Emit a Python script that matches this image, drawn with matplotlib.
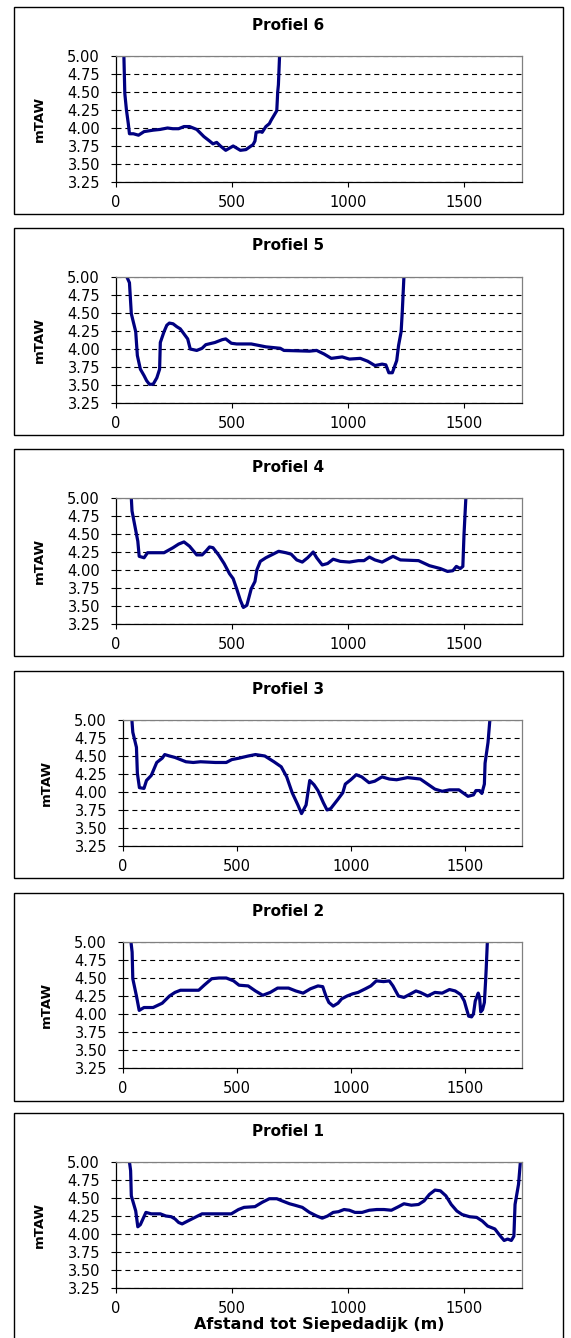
import matplotlib
matplotlib.use("Agg")
from matplotlib import pyplot as plt
from matplotlib.patches import Rectangle

# Profile data: distance to Siepedadijk (m) and height (mTAW)
P6_X = [34, 38, 45, 53, 58, 75, 97, 121, 160, 190, 222, 245, 270, 293, 317, 348, 379, 403, 418,
        434, 450, 473, 505, 536, 560, 591, 599, 604, 622, 630, 646, 661, 669, 693, 697, 700, 705]
P6_Y = [5.00, 4.48, 4.25, 4.06, 3.92, 3.92, 3.90, 3.95, 3.97, 3.98, 4.00, 3.99, 3.99, 4.02, 4.02,
        3.98, 3.88, 3.82, 3.78, 3.80, 3.75, 3.69, 3.75, 3.69, 3.70, 3.77, 3.82, 3.94, 3.95, 3.94,
        4.02, 4.06, 4.11, 4.24, 4.50, 4.60, 5.00]

P5_X = [47, 58, 66, 85, 92, 105, 121, 132, 144, 160, 176, 188, 191, 207, 219, 230, 246, 262, 277,
        293, 309, 320, 348, 371, 387, 426, 458, 473, 497, 520, 583, 646, 708, 724, 834, 865, 897,
        928, 975, 1006, 1053, 1085, 1116, 1147, 1163, 1176, 1191, 1210, 1218, 1229, 1234, 1241]
P5_Y = [5.00, 4.92, 4.49, 4.24, 3.91, 3.72, 3.63, 3.56, 3.51, 3.51, 3.60, 3.72, 4.09, 4.24, 4.33,
        4.36, 4.35, 4.31, 4.28, 4.21, 4.14, 4.00, 3.98, 4.01, 4.06, 4.09, 4.13, 4.14, 4.08, 4.07,
        4.07, 4.03, 4.01, 3.98, 3.97, 3.98, 3.93, 3.87, 3.89, 3.86, 3.87, 3.83, 3.77, 3.79, 3.78,
        3.67, 3.67, 3.84, 4.05, 4.24, 4.52, 5.00]

P4_X = [66, 69, 94, 100, 121, 136, 160, 207, 246, 270, 293, 317, 348, 371, 387, 403, 418, 442,
        466, 489, 505, 520, 536, 549, 564, 583, 599, 607, 622, 646, 677, 701, 732, 755, 779, 803,
        826, 850, 865, 889, 912, 936, 967, 1006, 1045, 1069, 1092, 1116, 1147, 1194, 1226, 1304,
        1351, 1398, 1429, 1452, 1467, 1484, 1495, 1500, 1508]
P4_Y = [5.00, 4.82, 4.40, 4.19, 4.17, 4.24, 4.24, 4.24, 4.31, 4.36, 4.39, 4.33, 4.21, 4.21, 4.26,
        4.32, 4.31, 4.21, 4.09, 3.95, 3.88, 3.74, 3.58, 3.48, 3.51, 3.74, 3.84, 4.00, 4.12, 4.17,
        4.22, 4.26, 4.24, 4.22, 4.14, 4.11, 4.17, 4.25, 4.17, 4.07, 4.09, 4.15, 4.12, 4.11, 4.13,
        4.13, 4.18, 4.14, 4.11, 4.19, 4.14, 4.13, 4.06, 4.02, 3.98, 3.99, 4.05, 4.02, 4.05, 4.49,
        5.00]

P3_X = [39, 43, 59, 63, 72, 92, 103, 124, 148, 172, 183, 204, 228, 252, 276, 308, 340, 405, 453,
        477, 509, 549, 581, 622, 662, 694, 718, 742, 767, 783, 803, 819, 838, 855, 879, 895, 911,
        943, 964, 975, 999, 1023, 1047, 1079, 1104, 1136, 1168, 1200, 1248, 1304, 1336, 1368,
        1400, 1432, 1473, 1513, 1537, 1548, 1564, 1574, 1585, 1588, 1601, 1609]
P3_Y = [5.00, 4.83, 4.62, 4.26, 4.06, 4.05, 4.16, 4.23, 4.41, 4.47, 4.52, 4.50, 4.48, 4.45, 4.42,
        4.41, 4.42, 4.41, 4.41, 4.45, 4.47, 4.50, 4.52, 4.50, 4.42, 4.35, 4.21, 3.99, 3.82, 3.70,
        3.82, 4.16, 4.10, 4.02, 3.85, 3.75, 3.77, 3.90, 3.99, 4.11, 4.17, 4.24, 4.21, 4.13, 4.15,
        4.21, 4.18, 4.17, 4.20, 4.18, 4.11, 4.04, 4.01, 4.03, 4.03, 3.94, 3.96, 4.02, 4.02, 3.98,
        4.11, 4.40, 4.69, 5.00]

P2_X = [35, 40, 43, 59, 71, 92, 132, 172, 204, 228, 252, 292, 332, 356, 389, 421, 453, 485, 509,
        549, 581, 613, 646, 678, 726, 758, 790, 822, 855, 876, 890, 903, 922, 943, 959, 983, 1007,
        1031, 1063, 1087, 1111, 1143, 1168, 1184, 1208, 1232, 1256, 1285, 1304, 1336, 1368, 1400,
        1432, 1457, 1481, 1497, 1505, 1516, 1529, 1537, 1545, 1558, 1564, 1569, 1577, 1585, 1590,
        1593, 1598]
P2_Y = [5.00, 4.86, 4.49, 4.25, 4.05, 4.09, 4.09, 4.15, 4.25, 4.30, 4.33, 4.33, 4.33, 4.40, 4.49,
        4.50, 4.50, 4.46, 4.40, 4.39, 4.32, 4.26, 4.30, 4.36, 4.36, 4.32, 4.29, 4.35, 4.39, 4.38,
        4.25, 4.16, 4.11, 4.15, 4.21, 4.25, 4.28, 4.30, 4.35, 4.39, 4.46, 4.45, 4.46, 4.39, 4.25,
        4.23, 4.27, 4.32, 4.30, 4.25, 4.30, 4.29, 4.34, 4.32, 4.27, 4.18, 4.09, 3.97, 3.96, 4.00,
        4.18, 4.29, 4.23, 4.03, 4.06, 4.16, 4.44, 4.63, 5.00]

P1_X = [58, 63, 66, 85, 94, 105, 129, 152, 191, 215, 238, 254, 270, 285, 309, 340, 371, 411, 458,
        497, 528, 552, 599, 630, 661, 693, 716, 748, 771, 803, 834, 865, 889, 912, 936, 959, 983,
        1006, 1030, 1061, 1092, 1124, 1155, 1187, 1218, 1241, 1273, 1304, 1328, 1351, 1375, 1398,
        1422, 1445, 1469, 1492, 1524, 1555, 1579, 1602, 1633, 1657, 1673, 1688, 1704, 1715, 1720,
        1735, 1743]
P1_Y = [5.00, 4.88, 4.53, 4.32, 4.10, 4.13, 4.30, 4.28, 4.28, 4.25, 4.24, 4.21, 4.16, 4.14, 4.18,
        4.23, 4.28, 4.28, 4.28, 4.28, 4.34, 4.37, 4.38, 4.44, 4.49, 4.49, 4.46, 4.42, 4.40, 4.37,
        4.30, 4.25, 4.22, 4.25, 4.30, 4.31, 4.34, 4.33, 4.30, 4.30, 4.33, 4.34, 4.34, 4.33, 4.38,
        4.42, 4.40, 4.41, 4.46, 4.55, 4.61, 4.60, 4.53, 4.41, 4.32, 4.27, 4.24, 4.23, 4.18, 4.11,
        4.07, 3.97, 3.91, 3.93, 3.91, 3.97, 4.41, 4.69, 5.00]

TITLES = ["Profiel 6", "Profiel 5", "Profiel 4", "Profiel 3", "Profiel 2", "Profiel 1"]
SERIES = [(P6_X, P6_Y), (P5_X, P5_Y), (P4_X, P4_Y), (P3_X, P3_Y), (P2_X, P2_Y), (P1_X, P1_Y)]
Y_TICKS = [3.25, 3.50, 3.75, 4.00, 4.25, 4.50, 4.75, 5.00]
X_TICKS = [0, 500, 1000, 1500]
Y_LABEL = "mTAW"
X_LABEL = "Afstand tot Siepedadijk (m)"

# Layout (pixels)
FIG_W, FIG_H = 571, 1338
DPI = 100
BOX_LEFT, BOX_RIGHT = 14, 563
BOX_TOPS = [7, 228, 449, 671, 893, 1113]
BOX_HEIGHTS = [207, 207, 207, 207, 208, 240]
PLOT_LEFTS = [116, 116, 116, 123, 123, 116]
PLOT_RIGHT = 522
PLOT_TOP_OFF, PLOT_BOTTOM_OFF = 49, 175
LINE_COLOR = "#000080"
FONT = "DejaVu Sans"


def px_rect(left, top, right, bottom):
    return [left / FIG_W, 1 - bottom / FIG_H, (right - left) / FIG_W, (bottom - top) / FIG_H]


def style_axes(ax):
    ax.set_xlim(0, 1750)
    ax.set_ylim(3.25, 5.00)
    ax.set_xticks(X_TICKS)
    ax.set_yticks(Y_TICKS)
    ax.set_yticklabels([f"{v:.2f}" for v in Y_TICKS])
    ax.tick_params(axis="y", direction="out", length=3.5, width=0.8, pad=8, labelsize=10.5)
    ax.tick_params(axis="x", direction="out", length=3.5, width=0.8, pad=6, labelsize=10.5)
    for spine in ("left", "bottom"):
        ax.spines[spine].set_color("black")
        ax.spines[spine].set_linewidth(0.9)
    for spine in ("top", "right"):
        ax.spines[spine].set_color("#808080")
        ax.spines[spine].set_linewidth(0.9)
    ax.set_axisbelow(True)
    ax.yaxis.grid(True, color="black", linestyle=(0, (4.5, 3.5)), linewidth=0.8)


plt.rcParams["font.family"] = [FONT]
fig = plt.figure(figsize=(FIG_W / DPI, FIG_H / DPI), dpi=DPI)

for i, (title, (xs, ys)) in enumerate(zip(TITLES, SERIES)):
    top = BOX_TOPS[i]
    fig.patches.append(Rectangle((BOX_LEFT / FIG_W, 1 - (top + BOX_HEIGHTS[i]) / FIG_H),
                                 (BOX_RIGHT - BOX_LEFT) / FIG_W, BOX_HEIGHTS[i] / FIG_H,
                                 transform=fig.transFigure, fill=False,
                                 edgecolor="black", linewidth=1.0, zorder=0))
    ax = fig.add_axes(px_rect(PLOT_LEFTS[i], top + PLOT_TOP_OFF, PLOT_RIGHT, top + PLOT_BOTTOM_OFF))
    ax.plot(xs, ys, color=LINE_COLOR, linewidth=2.3, solid_joinstyle="round",
            solid_capstyle="round")
    style_axes(ax)
    fig.text((BOX_LEFT + BOX_RIGHT) / 2 / FIG_W, 1 - (top + 18) / FIG_H, title,
             ha="center", va="center", fontsize=11, fontweight="bold")
    fig.text((PLOT_LEFTS[i] - 77) / FIG_W,
             1 - (top + (PLOT_TOP_OFF + PLOT_BOTTOM_OFF) / 2) / FIG_H, Y_LABEL,
             ha="center", va="center", rotation=90, fontsize=9.5, fontweight="bold")

fig.text((PLOT_LEFTS[-1] + PLOT_RIGHT) / 2 / FIG_W, 1 - 1324 / FIG_H, X_LABEL,
         ha="center", va="center", fontsize=11.5, fontweight="bold")

fig.savefig("out.png", dpi=DPI)
